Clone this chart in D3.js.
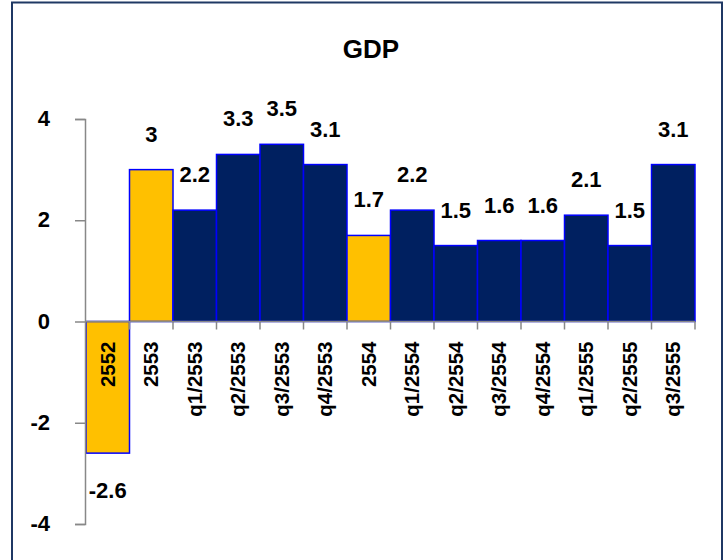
<!DOCTYPE html>
<html>
<head>
<meta charset="utf-8">
<script src="https://cdn.jsdelivr.net/npm/d3@7"></script>
<style>
  body { margin: 0; background: #fff; }
  text { font-family: 'Liberation Sans', Arial, sans-serif; font-weight: bold; fill: #000; }
</style>
</head>
<body>
<div id="chart"></div>
<script>
// GDP growth by year and quarter (Thai years)
const categories = ['2552', '2553', 'q1/2553', 'q2/2553', 'q3/2553', 'q4/2553', '2554',
  'q1/2554', 'q2/2554', 'q3/2554', 'q4/2554', 'q1/2555', 'q2/2555', 'q3/2555']
const values = [-2.6, 3, 2.2, 3.3, 3.5, 3.1, 1.7, 2.2, 1.5, 1.6, 1.6, 2.1, 1.5, 3.1]
const yTicks = [-4, -2, 0, 2, 4]

const width = 728
const height = 560

const svg = d3.select('#chart')
  .append('svg')
  .attr('width', width)
  .attr('height', height)

// chart area border
svg.append('rect')
  .attr('x', 12)
  .attr('y', 2.5)
  .attr('width', 710)
  .attr('height', 570)
  .attr('fill', '#fff')
  .attr('stroke', '#1f3864')
  .attr('stroke-width', 2)

svg.append('text')
  .attr('x', 371)
  .attr('y', 58)
  .attr('text-anchor', 'middle')
  .style('font-size', '26px')
  .text('GDP')

const x = d3.scaleBand()
  .domain(categories)
  .range([86, 695])
  .padding(0)

const y = d3.scaleLinear()
  .domain([-4, 4])
  .range([524, 119])

const data = categories.map((c, i) => ({ cat: c, value: values[i] }))
const isAnnual = c => !c.startsWith('q')

// bars
svg.append('g')
  .selectAll('rect')
  .data(data)
  .join('rect')
  .attr('x', d => x(d.cat))
  .attr('width', x.bandwidth())
  .attr('y', d => y(Math.max(0, d.value)))
  .attr('height', d => Math.abs(y(d.value) - y(0)))
  .attr('fill', d => isAnnual(d.cat) ? '#ffc000' : '#002060')
  .attr('stroke', '#0000ff')
  .attr('stroke-width', 1.5)

// y axis
const yAxis = svg.append('g')
  .attr('transform', 'translate(85, 0)')
  .call(d3.axisLeft(y).tickValues(yTicks).tickSize(10).tickPadding(25).tickFormat(d => String(d)))
yAxis.selectAll('path, line').attr('stroke', '#888').attr('stroke-width', 1.5)
yAxis.selectAll('text')
  .style('font-size', '22px')
  .style('font-family', "'Liberation Sans', Arial, sans-serif")
  .attr('dy', '0.3em')

// x axis: line at zero with ticks on category boundaries
const xAxis = svg.append('g')
const edges = categories.map(c => x(c)).concat([x.range()[1]])
xAxis.append('line')
  .attr('x1', 85)
  .attr('x2', x.range()[1])
  .attr('y1', y(0))
  .attr('y2', y(0))
  .attr('stroke', '#888')
  .attr('stroke-width', 1.5)
xAxis.selectAll('.tick')
  .data(edges.slice(1))
  .join('line')
  .attr('x1', d => d)
  .attr('x2', d => d)
  .attr('y1', y(0))
  .attr('y2', y(0) + 8)
  .attr('stroke', '#888')
  .attr('stroke-width', 1.5)

// category labels, rotated
svg.append('g')
  .selectAll('text')
  .data(categories)
  .join('text')
  .attr('transform', d => `translate(${x(d) + x.bandwidth() / 2}, ${y(0) + 20}) rotate(-90)`)
  .attr('text-anchor', 'end')
  .attr('dy', '0.35em')
  .style('font-size', '20.5px')
  .text(d => d)

// value labels
svg.append('g')
  .selectAll('text')
  .data(data)
  .join('text')
  .attr('x', d => x(d.cat) + x.bandwidth() / 2)
  .attr('y', d => d.value >= 0 ? y(d.value) - 28 : y(d.value) + 45)
  .attr('text-anchor', 'middle')
  .style('font-size', '22px')
  .text(d => d.value)
</script>
</body>
</html>
